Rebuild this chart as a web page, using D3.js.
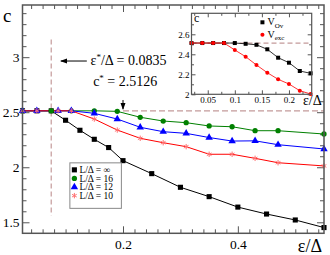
<!DOCTYPE html>
<html>
<head>
<meta charset="utf-8">
<script src="https://cdn.jsdelivr.net/npm/d3@7"></script>
<style>
  body { margin: 0; background: #fff; }
  svg { display: block; font-family: 'Liberation Serif', 'Times New Roman', serif; }
</style>
</head>
<body>
<div id="chart"></div>
<script>
// main panel: c versus eps/Delta for several L/Delta
const epsBlack = [0.025, 0.05, 0.075, 0.1, 0.125, 0.15, 0.175, 0.2, 0.25, 0.3, 0.35, 0.4, 0.45, 0.5, 0.55]
const cBlack   = [2.5126, 2.5126, 2.5126, 2.427, 2.336, 2.254, 2.179, 2.06, 1.942, 1.818, 1.733, 1.638, 1.575, 1.521, 1.452]

const epsGreen = [0.025, 0.075, 0.11, 0.15, 0.19, 0.23, 0.27, 0.31, 0.35, 0.39, 0.43, 0.47, 0.55]
const cGreen   = [2.5126, 2.5126, 2.5126, 2.5126, 2.508, 2.454, 2.42, 2.405, 2.375, 2.368, 2.332, 2.332, 2.302]

const epsBlue  = [0.025, 0.05, 0.087, 0.11, 0.15, 0.19, 0.23, 0.27, 0.31, 0.35, 0.39, 0.43, 0.47, 0.55]
const cBlue    = [2.5126, 2.5126, 2.5126, 2.5126, 2.49, 2.438, 2.363, 2.323, 2.308, 2.27, 2.238, 2.24, 2.205, 2.166]

const epsRed   = [0.025, 0.05, 0.087, 0.11, 0.15, 0.19, 0.23, 0.27, 0.31, 0.35, 0.39, 0.43, 0.47, 0.55]
const cRed     = [2.5126, 2.5126, 2.5126, 2.5126, 2.438, 2.338, 2.263, 2.223, 2.187, 2.118, 2.118, 2.081, 2.041, 2.012]

const legendLabels = ['L/\u0394 =  \u221E', 'L/\u0394 = 16', 'L/\u0394 = 12', 'L/\u0394 = 10']

const epsStarLine = 0.075
const cStar = 2.5126

// inset: V_Ov and V_exc
const epsInset = [0.02, 0.04, 0.06, 0.08, 0.1, 0.12, 0.14, 0.16, 0.18, 0.2, 0.22, 0.24]
const cOv      = [2.5126, 2.5126, 2.5126, 2.5126, 2.5126, 2.505, 2.495, 2.45, 2.366, 2.316, 2.233, 2.21]
const cExc     = [2.5126, 2.5126, 2.5126, 2.5126, 2.443, 2.376, 2.293, 2.216, 2.15, 2.103, 2.036, 2.003]

const width = 330, height = 255

const x = d3.scaleLinear([0.025, 0.55], [22.5, 324])
const y = d3.scaleLinear([1.4, 3.474], [233.3, 5])

const xi = d3.scaleLinear([0.02, 0.242], [191.5, 311.7])
const yi = d3.scaleLinear([2.0, 2.81], [94.3, 13.3])

const svg = d3.select('#chart').append('svg')
  .attr('width', width)
  .attr('height', height)

const zip = (xs, ys) => xs.map((v, i) => [v, ys[i]])

const series = [
  { data: zip(epsBlack, cBlack), color: '#000', marker: '#000', sym: d3.symbolSquare, size: 26, stroke: false },
  { data: zip(epsGreen, cGreen), color: '#008000', marker: '#008000', sym: d3.symbolCircle, size: 22, stroke: false },
  { data: zip(epsBlue, cBlue), color: '#0000ff', marker: '#0000ff', sym: d3.symbolTriangle, size: 24, stroke: false },
  { data: zip(epsRed, cRed), color: '#ff0000', marker: '#ff7070', sym: d3.symbolAsterisk, size: 20, stroke: true }
]

const frameColor = '#555'

// ---- axes of main panel (ticks on all four sides, inward)
const addTicks = (scale, orient, tickVals, len, transform, labels) => {
  const axis = orient(scale)
    .tickValues(tickVals)
    .tickSize(-len)
    .tickPadding(3)
    .tickFormat(labels ? d3.format('') : '')
  const g = svg.append('g').attr('transform', transform).call(axis)
  g.attr('font-family', null)
  g.select('.domain').remove()
  g.selectAll('line').attr('stroke', frameColor).attr('stroke-width', 1)
  g.selectAll('text')
    .attr('font-size', 13.5)
    .attr('fill', '#000')
  return g
}

const xMajor = [0.2, 0.4]
const xMinor = d3.range(0.04, 0.551, 0.02).filter(v => !xMajor.some(m => Math.abs(m - v) < 1e-6))
const yMajor = [1.5, 2, 2.5, 3]
const yMinor = d3.range(1.5, 3.45, 0.1).filter(v => !yMajor.some(m => Math.abs(m - v) < 1e-6))

const x0 = x.range()[0], x1 = x.range()[1]
const y0 = y.range()[0], y1 = y.range()[1]

addTicks(x, d3.axisBottom, xMajor, 7, `translate(0,${y0})`, true)
  .selectAll('text').attr('dy', '0.95em')
addTicks(x, d3.axisBottom, xMinor, 4, `translate(0,${y0})`, false)
addTicks(x, d3.axisTop, xMajor, 7, `translate(0,${y1})`, false)
addTicks(x, d3.axisTop, xMinor, 4, `translate(0,${y1})`, false)
addTicks(y, d3.axisLeft, yMajor, 7, `translate(${x0},0)`, true)
addTicks(y, d3.axisLeft, yMinor, 4, `translate(${x0},0)`, false)
addTicks(y, d3.axisRight, yMajor, 7, `translate(${x1},0)`, false)
addTicks(y, d3.axisRight, yMinor, 4, `translate(${x1},0)`, false)

// ---- dashed guide lines
const guide = '#c49a9a'
svg.append('line')
  .attr('x1', x(epsStarLine)).attr('x2', x(epsStarLine))
  .attr('y1', y(3.16)).attr('y2', y(1.56))
  .attr('stroke', guide).attr('stroke-width', 1.2)
  .attr('stroke-dasharray', '5,3')

svg.append('line')
  .attr('x1', x(0.2)).attr('x2', x1)
  .attr('y1', y(cStar)).attr('y2', y(cStar))
  .attr('stroke', guide).attr('stroke-width', 1.2)
  .attr('stroke-dasharray', '6,3')

// ---- series
const line = d3.line().x(d => x(d[0])).y(d => y(d[1]))

series.forEach(s => {
  svg.append('path')
    .datum(s.data)
    .attr('d', line)
    .attr('fill', 'none')
    .attr('stroke', s.color)
    .attr('stroke-width', 1)
})

series.forEach(s => {
  const sym = d3.symbol().type(s.sym).size(s.size)
  svg.append('g')
    .selectAll('path')
    .data(s.data)
    .enter()
    .append('path')
      .attr('transform', d => `translate(${x(d[0])},${y(d[1])})`)
      .attr('d', sym)
      .attr('fill', s.stroke ? 'none' : s.marker)
      .attr('stroke', s.stroke ? s.marker : 'none')
      .attr('stroke-width', 1)
})

// ---- frame
svg.append('rect')
  .attr('x', x0).attr('y', y1)
  .attr('width', x1 - x0).attr('height', y0 - y1)
  .attr('fill', 'none')
  .attr('stroke', frameColor)
  .attr('stroke-width', 1.5)

// ---- axis titles
svg.append('text')
  .attr('x', 3).attr('y', 22)
  .attr('font-size', 19)
  .text('c')

svg.append('text')
  .attr('x', x1 - 2).attr('y', 252)
  .attr('text-anchor', 'end')
  .attr('font-size', 18)
  .text('\u03B5/\u0394')

// ---- annotations
const arrowHead = (tx, ty, dir) => {
  // dir: 'left' or 'down'
  const p = dir === 'left'
    ? [[tx, ty], [tx + 7, ty - 2.5], [tx + 7, ty + 2.5]]
    : [[tx, ty], [tx - 2.5, ty - 7], [tx + 2.5, ty - 7]]
  svg.append('path')
    .attr('d', d3.line()(p) + 'Z')
    .attr('fill', '#000')
}

svg.append('line')
  .attr('x1', x(0.137)).attr('x2', x(0.092))
  .attr('y1', y(2.965)).attr('y2', y(2.965))
  .attr('stroke', '#000').attr('stroke-width', 1)
arrowHead(x(0.0903), y(2.965), 'left')

svg.append('line')
  .attr('x1', x(0.2)).attr('x2', x(0.2))
  .attr('y1', y(2.611)).attr('y2', y(2.53))
  .attr('stroke', '#000').attr('stroke-width', 1)
arrowHead(x(0.2), y(2.52), 'down')

const ann1 = svg.append('text')
  .attr('x', x(0.1435)).attr('y', y(2.93))
  .attr('font-size', 14)
ann1.append('tspan').text('\u03B5')
ann1.append('tspan').attr('dy', -5).attr('font-size', 9).text('*')
ann1.append('tspan').attr('dy', 5).text('/\u0394 = 0.0835')

const ann2 = svg.append('text')
  .attr('x', x(0.148)).attr('y', y(2.74))
  .attr('font-size', 14)
ann2.append('tspan').text('c')
ann2.append('tspan').attr('dy', -5).attr('font-size', 9).text('*')
ann2.append('tspan').attr('dy', 5).text(' = 2.5126')

// ---- legend
const lg = svg.append('g').attr('transform', `translate(${x(0.1075)},${y(2.04)})`)
lg.append('rect')
  .attr('width', 51.5).attr('height', 45.5)
  .attr('fill', '#fff')
  .attr('stroke', '#888').attr('stroke-width', 1)

series.forEach((s, i) => {
  const row = lg.append('g').attr('transform', `translate(0,${7 + i * 8.6})`)
  row.append('path')
    .attr('transform', 'translate(4.5,0)')
    .attr('d', d3.symbol().type(s.sym).size(s.size)())
    .attr('fill', s.stroke ? 'none' : s.marker)
    .attr('stroke', s.stroke ? s.marker : 'none')
  row.append('text')
    .attr('x', 9.5).attr('y', 3.3)
    .attr('font-size', 9.5)
    .text(legendLabels[i])
})

// ---- inset
const inset = svg.append('g')
const ix0 = xi.range()[0], ix1 = xi.range()[1]
const iy0 = yi.range()[0], iy1 = yi.range()[1]

inset.append('rect')
  .attr('x', ix0).attr('y', iy1)
  .attr('width', ix1 - ix0).attr('height', iy0 - iy1)
  .attr('fill', '#fff')

const addInsetTicks = (scale, orient, vals, len, transform, labels) => {
  const axis = orient(scale)
    .tickValues(vals)
    .tickSize(-len)
    .tickPadding(2)
    .tickFormat(labels ? d3.format('') : '')
  const g = inset.append('g').attr('transform', transform).call(axis)
  g.attr('font-family', null)
  g.select('.domain').remove()
  g.selectAll('line').attr('stroke', frameColor)
  g.selectAll('text')
    .attr('font-size', 9)
    .attr('fill', '#000')
  return g
}

const ixMajor = [0.05, 0.1, 0.15, 0.2]
const ixMinor = [0.025, 0.075, 0.125, 0.175, 0.225]
const iyMajor = [2.0, 2.2, 2.4, 2.6]
const iyMinor = [2.1, 2.3, 2.5, 2.7]

addInsetTicks(xi, d3.axisBottom, ixMajor, 4, `translate(0,${iy0})`, true)
  .selectAll('text').attr('dy', '0.8em')
addInsetTicks(xi, d3.axisBottom, ixMinor, 2.5, `translate(0,${iy0})`, false)
addInsetTicks(xi, d3.axisTop, ixMajor, 4, `translate(0,${iy1})`, false)
addInsetTicks(xi, d3.axisTop, ixMinor, 2.5, `translate(0,${iy1})`, false)
addInsetTicks(yi, d3.axisLeft, iyMajor, 4, `translate(${ix0},0)`, true)
addInsetTicks(yi, d3.axisLeft, iyMinor, 2.5, `translate(${ix0},0)`, false)
addInsetTicks(yi, d3.axisRight, iyMajor, 4, `translate(${ix1},0)`, false)
addInsetTicks(yi, d3.axisRight, iyMinor, 2.5, `translate(${ix1},0)`, false)

inset.append('line')
  .attr('x1', ix0).attr('x2', ix1)
  .attr('y1', yi(cStar)).attr('y2', yi(cStar))
  .attr('stroke', guide).attr('stroke-width', 1.2)
  .attr('stroke-dasharray', '5,3')

const iline = d3.line().x(d => xi(d[0])).y(d => yi(d[1]))
const insetSeries = [
  { data: zip(epsInset, cOv), color: '#000', sym: d3.symbolSquare, size: 16 },
  { data: zip(epsInset, cExc), color: '#ff0000', sym: d3.symbolCircle, size: 13 }
]

insetSeries.forEach(s => {
  inset.append('path')
    .datum(s.data)
    .attr('d', iline)
    .attr('fill', 'none')
    .attr('stroke', s.color)
    .attr('stroke-width', 0.8)
  inset.append('g')
    .selectAll('path')
    .data(s.data)
    .enter()
    .append('path')
      .attr('transform', d => `translate(${xi(d[0])},${yi(d[1])})`)
      .attr('d', d3.symbol().type(s.sym).size(s.size))
      .attr('fill', s.color)
})

inset.append('rect')
  .attr('x', ix0).attr('y', iy1)
  .attr('width', ix1 - ix0).attr('height', iy0 - iy1)
  .attr('fill', 'none')
  .attr('stroke', frameColor)
  .attr('stroke-width', 1.2)

inset.append('text')
  .attr('x', ix0 + 2.5).attr('y', iy1 + 9)
  .attr('font-size', 12)
  .text('c')

inset.append('text')
  .attr('x', ix1 + 10).attr('y', iy0 + 11)
  .attr('text-anchor', 'end')
  .attr('font-size', 14)
  .text('\u03B5/\u0394')

const insetLegend = [
  { sub: 'Ov', color: '#000', sym: d3.symbolSquare, size: 16 },
  { sub: 'exc', color: '#ff0000', sym: d3.symbolCircle, size: 13 }
]
insetLegend.forEach((d, i) => {
  const row = inset.append('g').attr('transform', `translate(${xi(0.151)},${yi(2.72 - i * 0.125)})`)
  row.append('path')
    .attr('d', d3.symbol().type(d.sym).size(d.size)())
    .attr('fill', d.color)
  const t = row.append('text')
    .attr('x', 5).attr('y', 3)
    .attr('font-size', 10)
  t.append('tspan').text('V')
  t.append('tspan').attr('dy', 2.5).attr('font-size', 7).text(d.sub)
})
</script>
</body>
</html>
